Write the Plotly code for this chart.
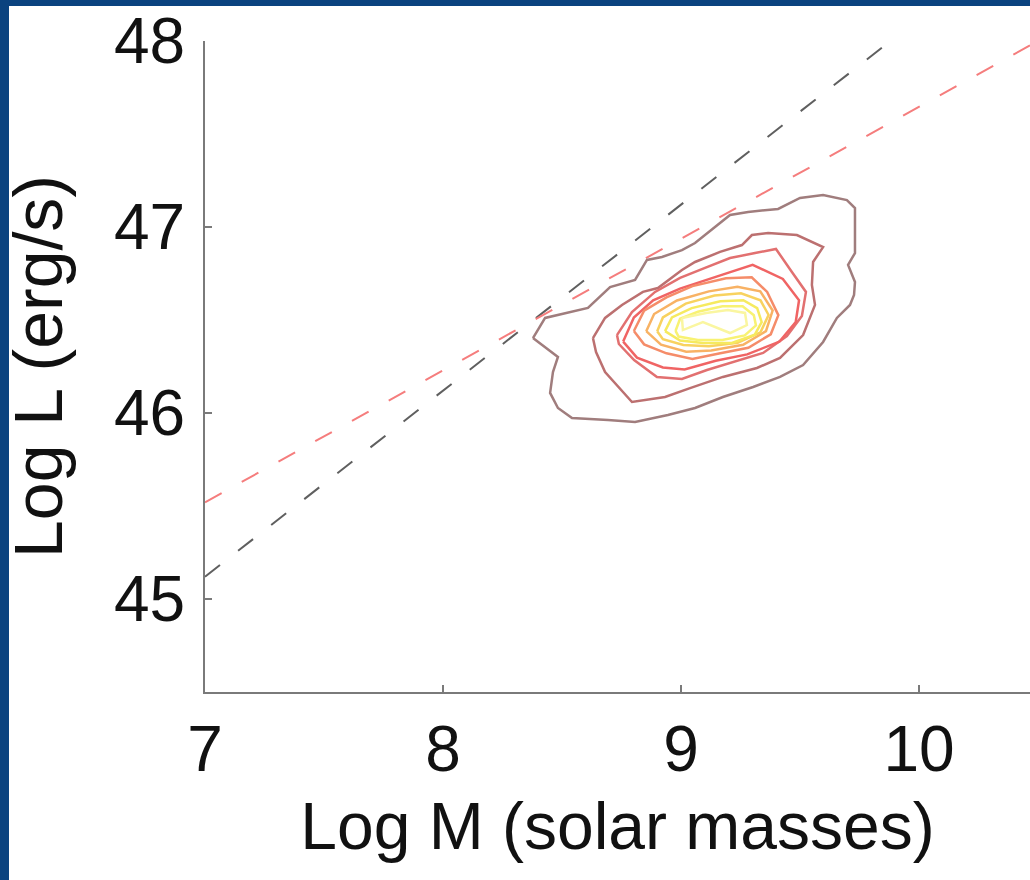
import plotly.graph_objects as go

# ---- data ----
x_ticks = [7, 8, 9, 10]
y_ticks = [45, 46, 47, 48]

# Eddington luminosity line and fitted relation (dashed)
edd_x = [7.0, 10.5]
edd_y = [45.12, 48.62]
fit_x = [7.0, 10.5]
fit_y = [45.52, 48.00]

# density contours, outermost first
c1_x = [8.378, 8.429, 8.609, 8.702, 8.807, 8.857, 8.920, 9.004, 9.059, 9.206, 9.282, 9.408, 9.500, 9.597, 9.697, 9.731, 9.731, 9.702, 9.731, 9.727, 9.710, 9.655, 9.597, 9.513, 9.416, 9.303, 9.176, 9.059, 8.945, 8.807, 8.693, 8.542, 8.483, 8.450, 8.462, 8.483, 8.378]
c1_y = [46.403, 46.511, 46.565, 46.677, 46.715, 46.823, 46.839, 46.876, 46.914, 47.065, 47.081, 47.097, 47.156, 47.172, 47.145, 47.102, 46.860, 46.796, 46.704, 46.634, 46.581, 46.511, 46.382, 46.258, 46.194, 46.140, 46.086, 46.027, 45.989, 45.952, 45.962, 45.973, 46.027, 46.108, 46.220, 46.301, 46.403]

c2_x = [8.630, 8.681, 8.752, 8.840, 8.903, 9.004, 9.059, 9.164, 9.256, 9.298, 9.366, 9.487, 9.597, 9.555, 9.550, 9.563, 9.513, 9.416, 9.319, 9.176, 9.038, 8.933, 8.794, 8.681, 8.643, 8.630]
c2_y = [46.403, 46.511, 46.581, 46.651, 46.672, 46.769, 46.812, 46.866, 46.903, 46.957, 46.968, 46.957, 46.892, 46.812, 46.688, 46.581, 46.419, 46.296, 46.242, 46.194, 46.134, 46.086, 46.059, 46.220, 46.328, 46.403]

c3_x = [8.731, 8.794, 8.891, 8.996, 9.101, 9.206, 9.311, 9.399, 9.466, 9.525, 9.508, 9.445, 9.345, 9.218, 9.109, 9.004, 8.899, 8.803, 8.739, 8.731]
c3_y = [46.419, 46.543, 46.651, 46.726, 46.780, 46.833, 46.860, 46.882, 46.758, 46.651, 46.522, 46.414, 46.323, 46.274, 46.231, 46.183, 46.194, 46.285, 46.371, 46.419]

c4_x = [8.757, 8.802, 8.883, 8.996, 9.178, 9.301, 9.428, 9.496, 9.482, 9.414, 9.278, 9.146, 9.015, 8.924, 8.815, 8.757]
c4_y = [46.384, 46.513, 46.606, 46.669, 46.745, 46.797, 46.721, 46.606, 46.489, 46.384, 46.315, 46.281, 46.234, 46.245, 46.298, 46.384]

c5_x = [8.802, 8.845, 8.939, 9.048, 9.189, 9.297, 9.362, 9.409, 9.377, 9.283, 9.165, 9.048, 8.939, 8.845, 8.802]
c5_y = [46.441, 46.550, 46.622, 46.682, 46.724, 46.730, 46.651, 46.526, 46.423, 46.351, 46.321, 46.291, 46.321, 46.369, 46.441]

c6_x = [8.854, 8.887, 8.983, 9.117, 9.237, 9.333, 9.385, 9.357, 9.261, 9.127, 9.022, 8.916, 8.854]
c6_y = [46.440, 46.532, 46.605, 46.654, 46.679, 46.654, 46.551, 46.440, 46.367, 46.336, 46.329, 46.367, 46.440]

c7_x = [8.900, 8.924, 9.020, 9.141, 9.252, 9.334, 9.368, 9.334, 9.238, 9.117, 9.010, 8.924, 8.900]
c7_y = [46.440, 46.514, 46.588, 46.632, 46.644, 46.606, 46.527, 46.434, 46.377, 46.359, 46.366, 46.397, 46.440]

c8_x = [8.933, 8.962, 9.045, 9.165, 9.262, 9.320, 9.339, 9.310, 9.214, 9.093, 8.996, 8.933]
c8_y = [46.440, 46.514, 46.564, 46.601, 46.606, 46.564, 46.489, 46.421, 46.377, 46.377, 46.390, 46.440]

c9_x = [8.977, 8.996, 9.071, 9.174, 9.259, 9.306, 9.315, 9.268, 9.174, 9.071, 8.990, 8.977]
c9_y = [46.441, 46.507, 46.544, 46.574, 46.574, 46.526, 46.471, 46.417, 46.393, 46.393, 46.411, 46.441]

c10_x = [9.004, 9.008, 9.092, 9.206, 9.277, 9.269, 9.197, 9.105, 9.004]
c10_y = [46.511, 46.446, 46.489, 46.430, 46.473, 46.538, 46.554, 46.538, 46.511]

contours_x = [c1_x, c2_x, c3_x, c4_x, c5_x, c6_x, c7_x, c8_x, c9_x, c10_x]
contours_y = [c1_y, c2_y, c3_y, c4_y, c5_y, c6_y, c7_y, c8_y, c9_y, c10_y]
contour_colors = ["rgb(160,125,125)", "rgb(188,112,112)", "rgb(226,112,112)",
                  "rgb(240,100,100)", "rgb(245,140,105)", "rgb(248,178,100)",
                  "rgb(248,210,95)", "rgb(246,234,95)", "rgb(248,242,115)",
                  "rgb(250,246,160)"]

FONT = "Liberation Sans, Arial, Helvetica, sans-serif"

fig = go.Figure()

fig.add_trace(go.Scatter(x=edd_x, y=edd_y, mode="lines",
                         line=dict(color="rgb(95,95,95)", width=2, dash="19px,23px"),
                         showlegend=False, hoverinfo="skip"))
fig.add_trace(go.Scatter(x=fit_x, y=fit_y, mode="lines",
                         line=dict(color="rgb(245,125,125)", width=2, dash="19px,23px"),
                         showlegend=False, hoverinfo="skip"))

for cx, cy, col in zip(contours_x, contours_y, contour_colors):
    fig.add_trace(go.Scatter(x=cx, y=cy, mode="lines",
                             line=dict(color=col, width=2.5),
                             showlegend=False, hoverinfo="skip"))

W, H = 1030, 880
ML, MR, MT, MB = 205, 0, 41, 188
pw, ph = W - ML - MR, H - MT - MB
navy = "#0b437f"

def px_x(p):
    return (p - ML) / pw

def px_y(p):
    return (H - MB - p) / ph

fig.update_layout(
    width=W, height=H,
    margin=dict(l=ML, r=MR, t=MT, b=MB, pad=0),
    paper_bgcolor="white", plot_bgcolor="white",
    font=dict(family=FONT, color="#111111"),
    xaxis=dict(range=[7, 7 + pw / 238.0], tickvals=x_ticks, ticktext=[str(v) for v in x_ticks],
               showgrid=False, zeroline=False, showline=True, linecolor="#7a7a7a", linewidth=2,
               ticks="inside", ticklen=7, tickwidth=1.5, tickcolor="#7a7a7a",
               tickfont=dict(size=64, family=FONT, color="#111111"),
               ticklabelstandoff=0,
               title=dict(text="Log M (solar masses)", font=dict(size=66, family=FONT, color="#111111"),
                          standoff=19)),
    yaxis=dict(range=[44.5, 48], tickvals=y_ticks, ticktext=[str(v) for v in y_ticks],
               showgrid=False, zeroline=False, showline=True, linecolor="#7a7a7a", linewidth=2,
               ticks="inside", ticklen=7, tickwidth=1.5, tickcolor="#7a7a7a",
               tickfont=dict(size=64, family=FONT, color="#111111"),
               ticklabelstandoff=5,
               title=dict(text="Log L (erg/s)", font=dict(size=68, family=FONT, color="#111111"),
                          standoff=33)),
    shapes=[
        dict(type="rect", xref="paper", yref="paper", layer="above",
             x0=px_x(0), x1=px_x(9), y0=px_y(H), y1=px_y(0),
             fillcolor=navy, line=dict(width=0)),
        dict(type="rect", xref="paper", yref="paper", layer="above",
             x0=px_x(0), x1=px_x(W), y0=px_y(6), y1=px_y(0),
             fillcolor=navy, line=dict(width=0)),
    ],
)

fig.write_html("out.html")
